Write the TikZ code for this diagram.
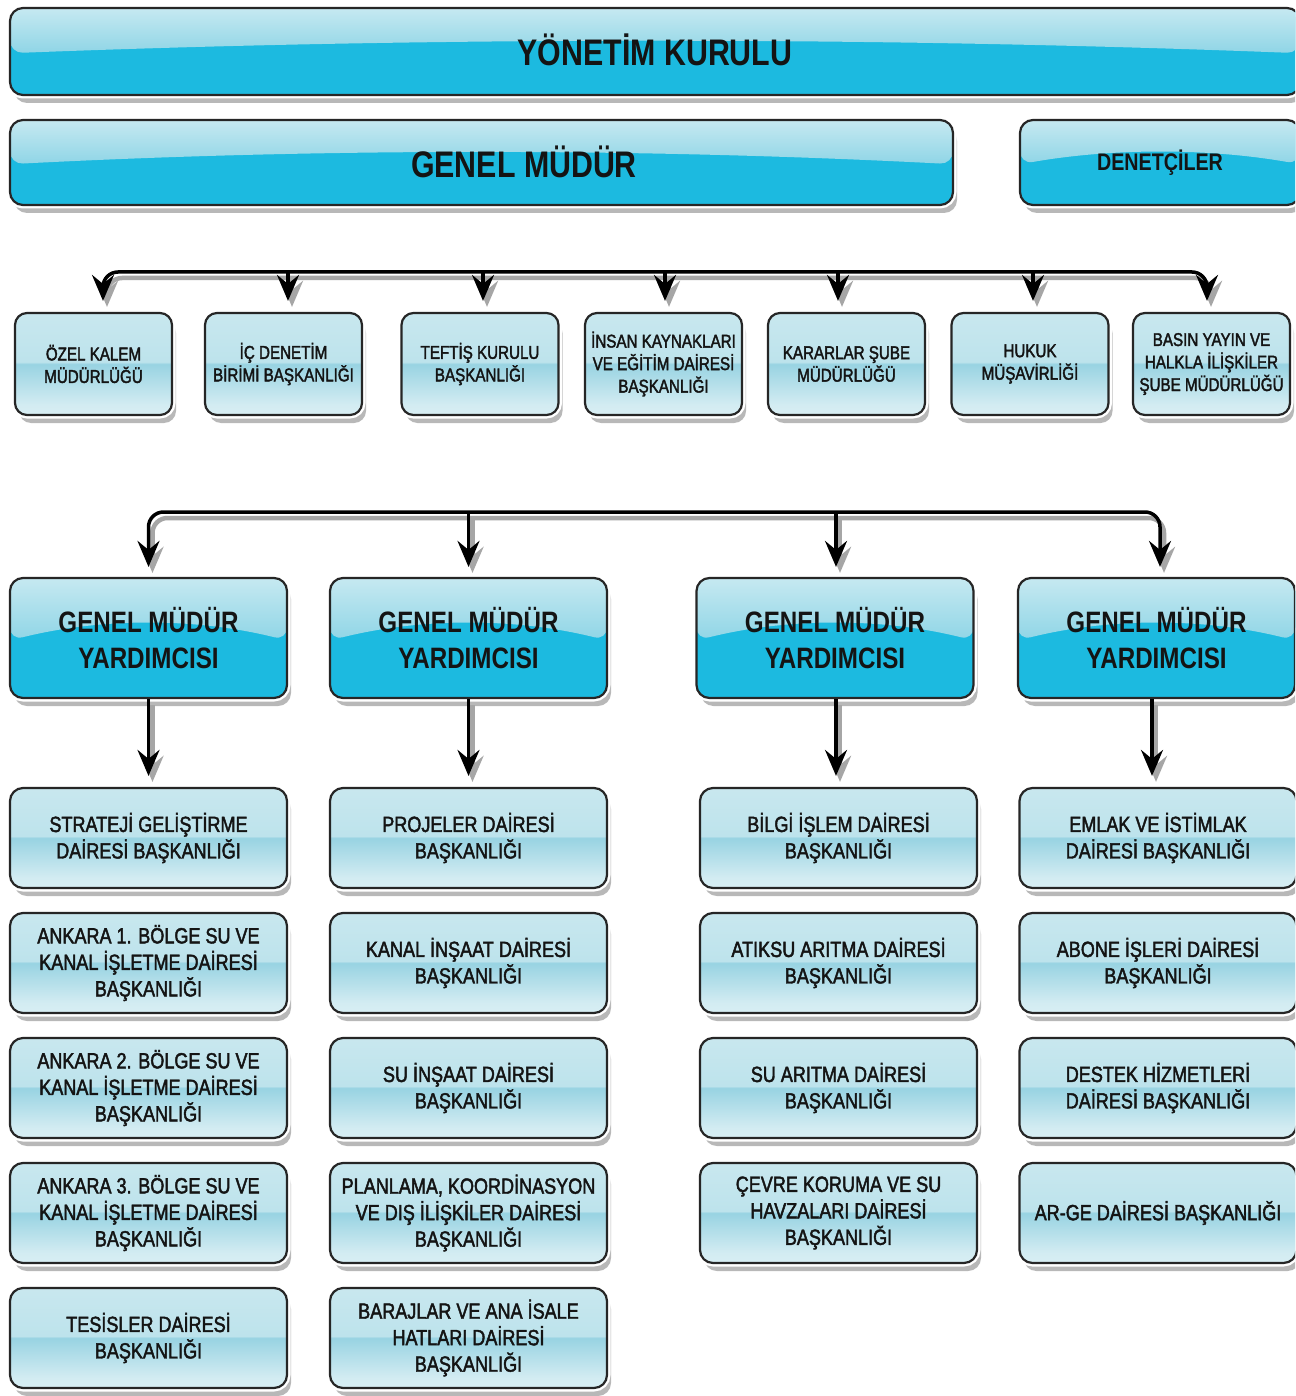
\documentclass[tikz,border=0pt]{standalone}
\usepackage{fontspec}
\newfontfamily\nar{Liberation Sans}[FakeStretch=0.82]
\newfontfamily\narm{Liberation Sans}[FakeStretch=0.82,FakeBold=2]
\usetikzlibrary{shadows,arrows.meta,calc}
\definecolor{cyanbot}{HTML}{1CBAE0}
\definecolor{bandtop}{HTML}{C6E9F1}
\definecolor{bandbot}{HTML}{8FD5E6}
\definecolor{txt}{HTML}{141414}
\definecolor{lsa}{HTML}{F1F9FB}
\definecolor{lsb}{HTML}{D3ECF2}
\definecolor{lsc}{HTML}{98D3E2}
\definecolor{lsd}{HTML}{BDE3EC}
\definecolor{lse}{HTML}{D4ECF1}
\pgfdeclareverticalshading{lightsh}{100bp}{color(0bp)=(lsa); color(30bp)=(lsb); color(50bp)=(lsc); color(51bp)=(lsd); color(100bp)=(lse)}
\tikzset{
  boxbase/.style={rounded corners=13pt, draw=black!85, line width=2.2pt, text=txt, align=center, inner sep=2pt,
    drop shadow={shadow xshift=4pt, shadow yshift=-8pt, fill=black!55},
    preaction={draw=white, line width=7pt}},
  darkbox/.style={boxbase, fill=cyanbot,
    path picture={
      \coordinate (ppnw) at (path picture bounding box.north west);
      \coordinate (ppne) at (path picture bounding box.north east);
      \coordinate (ppsw) at (path picture bounding box.south west);
      \coordinate (ppse) at (path picture bounding box.south east);
      \fill[top color=bandtop, bottom color=bandbot] (ppnw) -- (ppne) -- ($(ppne)!0.52!(ppse)$)
        .. controls ($(ppne)!0.33!(ppsw)$) and ($(ppnw)!0.33!(ppse)$) .. ($(ppnw)!0.52!(ppsw)$) -- cycle;
    }},
  lightbox/.style={boxbase, shading=lightsh},
  smallbox/.style={lightbox, rounded corners=12pt, minimum width=157pt, minimum height=102pt,
    font=\narm\fontsize{18.5}{22.5}\selectfont},
  gmybox/.style={darkbox, minimum width=277pt, minimum height=120pt,
    font=\nar\bfseries\fontsize{29.5}{36}\selectfont},
  childbox/.style={lightbox, minimum width=277pt, minimum height=100pt,
    font=\narm\fontsize{22}{26.5}\selectfont},
  tip/.tip={Stealth[length=26pt,width=22pt,inset=9pt]},
  conn/.style={line width=3.5pt, black, rounded corners=15pt,
    preaction={draw=black!35, line width=4.5pt, transform canvas={shift={(4pt,-6pt)}}}},
}
\begin{document}
\begin{tikzpicture}[x=1pt,y=-1pt]
\useasboundingbox (0,0) rectangle (1295,1396);
\fill[white] (0,0) rectangle (1295,1396);
\clip (0,0) rectangle (1295,1396);

% top level
\node[darkbox, minimum width=1290pt, minimum height=87pt, font=\nar\bfseries\fontsize{37}{40}\selectfont] (yk) at (655,51.5) {\raisebox{3pt}{YÖNETİM KURULU}};
\node[darkbox, minimum width=943pt, minimum height=85pt, font=\nar\bfseries\fontsize{37}{40}\selectfont] (gm) at (481.5,162.5) {\hspace*{85pt}\raisebox{2pt}{GENEL MÜDÜR}};
\node[darkbox, minimum width=280pt, minimum height=85pt, font=\nar\bfseries\fontsize{24}{28}\selectfont] (den) at (1160,162.5) {DENETÇİLER};

% offices
\node[smallbox] (o1) at (93.5,364) {ÖZEL KALEM\\MÜDÜRLÜĞÜ};
\node[smallbox] (o2) at (283.5,364) {İÇ DENETİM\\BİRİMİ BAŞKANLIĞI};
\node[smallbox] (o3) at (480,364) {TEFTİŞ KURULU\\BAŞKANLIĞI};
\node[smallbox] (o4) at (663.5,364) {İNSAN KAYNAKLARI\\VE EĞİTİM DAİRESİ\\BAŞKANLIĞI};
\node[smallbox] (o5) at (846.5,364) {KARARLAR ŞUBE\\MÜDÜRLÜĞÜ};
\node[smallbox] (o6) at (1030,364) {HUKUK\\MÜŞAVİRLİĞİ};
\node[smallbox] (o7) at (1211.5,364) {BASIN YAYIN VE\\HALKLA İLİŞKİLER\\ŞUBE MÜDÜRLÜĞÜ};

% deputies
\node[gmybox] (g1) at (148.5,638) {GENEL MÜDÜR\\YARDIMCISI};
\node[gmybox] (g2) at (468.5,638) {GENEL MÜDÜR\\YARDIMCISI};
\node[gmybox] (g3) at (835,638) {GENEL MÜDÜR\\YARDIMCISI};
\node[gmybox] (g4) at (1156.5,638) {GENEL MÜDÜR\\YARDIMCISI};

% departments
\node[childbox] (c11) at (148.5,838) {STRATEJİ GELİŞTİRME\\DAİRESİ BAŞKANLIĞI};
\node[childbox] (c12) at (148.5,963) {ANKARA 1. BÖLGE SU VE\\KANAL İŞLETME DAİRESİ\\BAŞKANLIĞI};
\node[childbox] (c13) at (148.5,1088) {ANKARA 2. BÖLGE SU VE\\KANAL İŞLETME DAİRESİ\\BAŞKANLIĞI};
\node[childbox] (c14) at (148.5,1213) {ANKARA 3. BÖLGE SU VE\\KANAL İŞLETME DAİRESİ\\BAŞKANLIĞI};
\node[childbox] (c15) at (148.5,1338) {TESİSLER DAİRESİ\\BAŞKANLIĞI};

\node[childbox] (c21) at (468.5,838) {PROJELER DAİRESİ\\BAŞKANLIĞI};
\node[childbox] (c22) at (468.5,963) {KANAL İNŞAAT DAİRESİ\\BAŞKANLIĞI};
\node[childbox] (c23) at (468.5,1088) {SU İNŞAAT DAİRESİ\\BAŞKANLIĞI};
\node[childbox] (c24) at (468.5,1213) {PLANLAMA, KOORDİNASYON\\VE DIŞ İLİŞKİLER DAİRESİ\\BAŞKANLIĞI};
\node[childbox] (c25) at (468.5,1338) {BARAJLAR VE ANA İSALE\\HATLARI DAİRESİ\\BAŞKANLIĞI};

\node[childbox] (c31) at (838.5,838) {BİLGİ İŞLEM DAİRESİ\\BAŞKANLIĞI};
\node[childbox] (c32) at (838.5,963) {ATIKSU ARITMA DAİRESİ\\BAŞKANLIĞI};
\node[childbox] (c33) at (838.5,1088) {SU ARITMA DAİRESİ\\BAŞKANLIĞI};
\node[childbox] (c34) at (838.5,1213) {ÇEVRE KORUMA VE SU\\HAVZALARI DAİRESİ\\BAŞKANLIĞI};

\node[childbox] (c41) at (1158,838) {EMLAK VE İSTİMLAK\\DAİRESİ BAŞKANLIĞI};
\node[childbox] (c42) at (1158,963) {ABONE İŞLERİ DAİRESİ\\BAŞKANLIĞI};
\node[childbox] (c43) at (1158,1088) {DESTEK HİZMETLERİ\\DAİRESİ BAŞKANLIĞI};
\node[childbox] (c44) at (1158,1213) {AR-GE DAİRESİ BAŞKANLIĞI};

% connectors, top bus
\coordinate (bus1) at (0,272);
\coordinate (a1) at ([xshift=9.5pt,yshift=11pt]o1.north);
\coordinate (a2) at ([xshift=4.5pt,yshift=11pt]o2.north);
\coordinate (a3) at ([xshift=3pt,yshift=11pt]o3.north);
\coordinate (a4) at ([xshift=1.5pt,yshift=11pt]o4.north);
\coordinate (a5) at ([xshift=-8.5pt,yshift=11pt]o5.north);
\coordinate (a6) at ([xshift=3pt,yshift=11pt]o6.north);
\coordinate (a7) at ([xshift=-4.5pt,yshift=11pt]o7.north);
\draw[conn,tip-tip] (a1) -- (a1 |- bus1) -- (a7 |- bus1) -- (a7);
\foreach \i in {2,...,6} \draw[conn,-tip] (a\i |- bus1) -- (a\i);

% connectors, deputies bus
\coordinate (bus2) at (0,512);
\coordinate (d1) at ([yshift=10pt]g1.north);
\coordinate (d2) at ([yshift=10pt]g2.north);
\coordinate (d3) at ([xshift=1pt,yshift=10pt]g3.north);
\coordinate (d4) at ([xshift=3.5pt,yshift=10pt]g4.north);
\draw[conn,tip-tip] (d1) -- (d1 |- bus2) -- (d4 |- bus2) -- (d4);
\foreach \i in {2,3} \draw[conn,-tip] (d\i |- bus2) -- (d\i);

% deputies to first department
\draw[conn,-tip,shorten >=11pt] (g1.south) -- (g1.south |- c11.north);
\draw[conn,-tip,shorten >=11pt] (g2.south) -- (g2.south |- c21.north);
\draw[conn,-tip,shorten >=11pt] ([xshift=1pt]g3.south) -- ([xshift=1pt]g3.south |- c31.north);
\draw[conn,-tip,shorten >=11pt] ([xshift=-4.5pt]g4.south) -- ([xshift=-4.5pt]g4.south |- c41.north);
\end{tikzpicture}
\end{document}
